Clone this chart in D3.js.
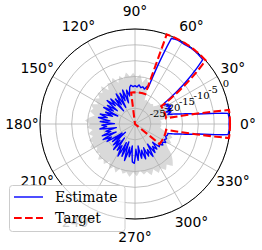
<!DOCTYPE html>
<html>
<head>
<meta charset="utf-8">
<script src="https://cdn.jsdelivr.net/npm/d3@7"></script>
<style>
  body { margin: 0; background: #fff; }
  svg { display: block; }
</style>
</head>
<body>
<div class="visContainer"></div>
<script>
// Axis ticks.
const angleTicks = [0, 30, 60, 90, 120, 150, 180, 210, 240, 270, 300, 330];
const radialTicks = [-25, -20, -15, -10, -5, 0];

// Target mask (degrees, dB).
const targetAngles = [0, 8.5, 10.5, 34, 42, 70.5, 71, 97, 97.5, 320.5, 321, 349.5, 351.5, 360];
const targetDb =     [0, 0, -20, -20, 0, 0, -20, -20, -30, -30, -20, -20, 0, 0];

// Estimated pattern (degrees, dB).
const estimateAngles = [
  0, 3, 6.5, 9, 12.5, 16, 19, 21, 23, 25, 27, 29, 31, 33, 35.5, 39.5, 43.5, 48, 53, 58, 63, 67, 68.5, 70,
  72, 75, 78, 81, 84, 87, 90, 93, 96,
  98, 101, 104, 107, 110, 113, 116, 119, 122, 125, 128, 131, 134, 137, 140, 143, 146, 149, 152, 155, 158,
  161, 164, 167, 170, 173, 176, 179, 182, 185, 188, 191, 194, 197, 200, 203, 206, 209, 212, 215, 218, 221,
  224, 227, 230, 233, 236, 239, 242, 245, 248, 251, 254, 257, 260, 263, 266, 269, 272, 275, 278, 281, 284,
  287, 290, 293, 296, 299, 302, 305, 308, 311, 314, 317, 320,
  323, 326, 329, 332, 335, 338, 341, 344, 347.5, 351, 353.5, 357, 360
];
const estimateDb = [
  -0.3, -0.2, -0.4, -9.9, -15.4, -19.2, -18, -19.5, -17.6, -18.8, -17.2, -18.5, -17.8, -19, -18.6, -9.5, -0.5, -0.3, -0.2, -0.4, -0.3, -0.6, -9, -17.8,
  -17.5, -18.6, -18, -18.4, -17.6, -18.3, -17.9, -18.2, -17.7,
  -18.2, -21, -19, -23, -18.6, -22, -19.2, -24, -18.8, -22.5, -20, -24.5, -19, -21.5, -18.5, -23, -19.5, -22, -18.8, -24, -20,
  -22.5, -18.6, -21, -18.3, -22, -19, -23.5, -19.5, -21, -18.8, -24, -20.5, -22, -19, -23.5, -18.8, -21.5, -19.6, -25, -21, -26,
  -20.5, -23, -19.5, -24.5, -20, -22, -18.5, -23.5, -19, -24, -18, -22.5, -19.5, -23, -18, -17.6, -22, -18.5, -23, -19, -21.5,
  -18.5, -22, -19, -21, -18.3, -22.5, -19, -21, -19.5, -22, -19.5, -20,
  -19, -19.8, -18.7, -19.5, -19, -19.6, -19.2, -19.2, -15.4, -9.9, -0.4, -0.2, -0.3
];

// Spread of the estimates (upper envelope, dB) every 4 degrees from 0.
const spreadAngles = d3.range(0, 360, 4);
const spreadDb = [
  -22, -21.5, -22, -18, -17, -18.5, -16.8, -18, -17.5, -19, -21, -22, -21.5, -22, -21.8, -22, -21.5, -22,
  -16.5, -15, -16.8, -14.2, -15.6, -13.8, -15, -13.5, -15.5, -14, -16, -13.8, -15.2, -14.5, -16.5, -14,
  -15.8, -14.6, -16.2, -15, -16.8, -14.8, -16, -15.2, -17, -15.5, -14.2, -15.8, -14.8, -16.5, -15, -16.2,
  -14.6, -15.5, -14, -16, -14.8, -15.6, -13.8, -15.2, -14, -15.8, -13.6, -15, -13.5, -15.4, -13.8, -14.6,
  -13.2, -14.8, -13.5, -15.2, -13.8, -14.5, -13, -14.6, -12.8, -14, -12.5, -13.8, -12.2, -13.5, -15, -17.2,
  -18.4, -17, -18.2, -17.4, -18.6, -21, -22, -21.6
];

const width = 262;
const height = 250;
const cx = 135;
const cy = 124;
const radius = 95;

const rScale = d3.scaleLinear().domain([-30, 0]).range([0, radius]).clamp(true);
const rad = (deg) => deg * Math.PI / 180;

// Interpolate in (theta, r) like a polar axes does.
function polarPoints(angles, values) {
  const pts = [];
  for (let i = 0; i < angles.length; i++) {
    if (i > 0) {
      const a0 = angles[i - 1], a1 = angles[i];
      const v0 = values[i - 1], v1 = values[i];
      const n = Math.max(1, Math.ceil(Math.abs(a1 - a0) / 0.5));
      for (let k = 1; k < n; k++) {
        const t = k / n;
        pts.push([a0 + (a1 - a0) * t, v0 + (v1 - v0) * t]);
      }
    }
    pts.push([angles[i], values[i]]);
  }
  return pts;
}

const line = d3.line()
  .x((d) => cx + rScale(d[1]) * Math.cos(rad(d[0])))
  .y((d) => cy - rScale(d[1]) * Math.sin(rad(d[0])));

const svg = d3.select('.visContainer')
  .append('svg')
  .attr('width', width)
  .attr('height', height);

// Gray spread.
svg.append('path')
  .attr('d', line(polarPoints(spreadAngles.concat([360]), spreadDb.concat([spreadDb[0]]))) + 'Z')
  .attr('fill', '#d9d9d9')
  .attr('stroke', 'none');

// Grid.
const grid = svg.append('g').attr('stroke', '#b0b0b0').attr('stroke-width', 0.8).attr('fill', 'none');
grid.selectAll('circle')
  .data(radialTicks)
  .enter()
  .append('circle')
  .attr('cx', cx)
  .attr('cy', cy)
  .attr('r', (d) => rScale(d));
grid.selectAll('line')
  .data(angleTicks)
  .enter()
  .append('line')
  .attr('x1', cx)
  .attr('y1', cy)
  .attr('x2', (d) => cx + radius * Math.cos(rad(d)))
  .attr('y2', (d) => cy - radius * Math.sin(rad(d)));

// Outer spine.
svg.append('circle')
  .attr('cx', cx)
  .attr('cy', cy)
  .attr('r', radius)
  .attr('fill', 'none')
  .attr('stroke', '#000')
  .attr('stroke-width', 1);

// Estimate and target.
svg.append('path')
  .attr('d', line(polarPoints(estimateAngles, estimateDb)))
  .attr('fill', 'none')
  .attr('stroke', '#0000ff')
  .attr('stroke-width', 1.4)
  .attr('stroke-linejoin', 'round');

svg.append('path')
  .attr('d', line(polarPoints(targetAngles, targetDb)))
  .attr('fill', 'none')
  .attr('stroke', '#ff0000')
  .attr('stroke-width', 2.1)
  .attr('stroke-dasharray', '7.7,3.3');

// Radial tick labels at 22.5 degrees.
svg.append('g')
  .selectAll('text')
  .data(radialTicks)
  .enter()
  .append('text')
  .attr('x', (d) => cx + rScale(d) * Math.cos(rad(22.5)))
  .attr('y', (d) => cy - rScale(d) * Math.sin(rad(22.5)) - 1)
  .attr('font-family', 'DejaVu Serif')
  .attr('font-size', '10px')
  .attr('fill', '#000')
  .text((d) => d);

// Angle labels.
svg.append('g')
  .selectAll('text')
  .data(angleTicks)
  .enter()
  .append('text')
  .attr('x', (d) => cx + 113 * Math.cos(rad(d)))
  .attr('y', (d) => cy - 113 * Math.sin(rad(d)))
  .attr('text-anchor', 'middle')
  .attr('dominant-baseline', 'central')
  .attr('font-family', 'DejaVu Sans')
  .attr('font-size', '13.9px')
  .attr('fill', '#000')
  .text((d) => d + '°');

// Legend.
const legend = svg.append('g');
legend.append('rect')
  .attr('x', 9.5)
  .attr('y', 185.5)
  .attr('width', 115.5)
  .attr('height', 46)
  .attr('rx', 3)
  .attr('fill', '#fff')
  .attr('fill-opacity', 0.8)
  .attr('stroke', '#cccccc')
  .attr('stroke-width', 1);

const legendItems = [
  { label: 'Estimate', color: '#0000ff', width: 1.4, dash: null, y: 197 },
  { label: 'Target', color: '#ff0000', width: 2.1, dash: '7.7,3.3', y: 218 }
];
legendItems.forEach((item) => {
  legend.append('line')
    .attr('x1', 14)
    .attr('x2', 43)
    .attr('y1', item.y)
    .attr('y2', item.y)
    .attr('stroke', item.color)
    .attr('stroke-width', item.width)
    .attr('stroke-dasharray', item.dash);
  legend.append('text')
    .attr('x', 55)
    .attr('y', item.y + 5)
    .attr('font-family', 'DejaVu Serif')
    .attr('font-size', '13.9px')
    .attr('fill', '#000')
    .text(item.label);
});
</script>
</body>
</html>
